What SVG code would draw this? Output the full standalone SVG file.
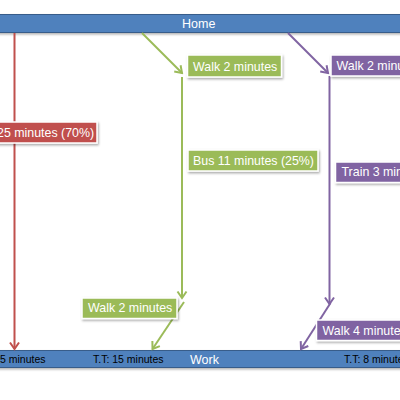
<svg xmlns="http://www.w3.org/2000/svg" width="400" height="400" viewBox="0 0 400 400">
<style>
.bar{fill:#4f81bd;stroke:#385d8a;stroke-width:1}
.bt{font-family:"Liberation Sans",Arial,sans-serif;font-size:12.5px;fill:#fff}
.tt{font-family:"Liberation Sans",Arial,sans-serif;font-size:10.5px;fill:#000}
.lbl{stroke:#fff;stroke-width:1.5;filter:url(#sh)}
.lt{font-family:"Liberation Sans",Arial,sans-serif;font-size:12.4px;fill:#fff}
.red{fill:#c0504d}.grn{fill:#9bbb59}.pur{fill:#8064a2}
.c{fill:none;stroke-width:2}
</style>
<defs>
<filter id="sh" x="-20%" y="-30%" width="140%" height="170%">
<feDropShadow dx="1" dy="1.5" stdDeviation="1" flood-color="#000" flood-opacity="0.35"/>
</filter>
<filter id="bs" x="-5%" y="-30%" width="110%" height="170%">
<feDropShadow dx="0" dy="1.5" stdDeviation="1" flood-color="#000" flood-opacity="0.3"/>
</filter>
<marker id="ar" viewBox="-8 -6 10 12" refX="0" refY="0" markerWidth="10" markerHeight="12" markerUnits="userSpaceOnUse" orient="auto"><path d="M-6.5,-4.5 L0,0 L-6.5,4.5" fill="none" stroke="#c0504d" stroke-width="2"/></marker>
<marker id="ag" viewBox="-8 -6 10 12" refX="0" refY="0" markerWidth="10" markerHeight="12" markerUnits="userSpaceOnUse" orient="auto"><path d="M-6.5,-4.5 L0,0 L-6.5,4.5" fill="none" stroke="#9bbb59" stroke-width="2"/></marker>
<marker id="ap" viewBox="-8 -6 10 12" refX="0" refY="0" markerWidth="10" markerHeight="12" markerUnits="userSpaceOnUse" orient="auto"><path d="M-6.5,-4.5 L0,0 L-6.5,4.5" fill="none" stroke="#8064a2" stroke-width="2"/></marker>
</defs>
<rect width="400" height="400" fill="#fff"/>
<g id="home">
<rect class="bar" x="-2" y="14.5" width="404" height="18" filter="url(#bs)"/>
<text class="bt" x="182" y="28">Home</text>
</g>
<g id="work">
<rect class="bar" x="-2" y="350.5" width="404" height="17" filter="url(#bs)"/>
<text class="bt" x="190" y="363.5">Work</text>
<text class="tt" x="0" y="363">5 minutes</text>
<text class="tt" x="93" y="363">T.T: 15 minutes</text>
<text class="tt" x="344" y="363">T.T: 8 minutes</text>
</g>
<g id="connectors">
<line class="c" x1="14.5" y1="33" x2="14.5" y2="349" stroke="#c0504d" marker-end="url(#ar)"/>
<line class="c" x1="142" y1="33" x2="182" y2="73" stroke="#9bbb59" marker-end="url(#ag)"/>
<line class="c" x1="182" y1="77" x2="182" y2="298" stroke="#9bbb59" marker-end="url(#ag)"/>
<line class="c" x1="184" y1="302" x2="152.5" y2="349" stroke="#9bbb59" marker-end="url(#ag)"/>
<line class="c" x1="288" y1="33" x2="328" y2="73" stroke="#8064a2" marker-end="url(#ap)"/>
<line class="c" x1="329.5" y1="76" x2="329.5" y2="304" stroke="#8064a2" marker-end="url(#ap)"/>
<line class="c" x1="330.5" y1="303" x2="301" y2="349" stroke="#8064a2" marker-end="url(#ap)"/>
</g>
<g id="car">
<rect class="lbl red" x="-4" y="122" width="101" height="21"/>
<text class="lt" x="-3" y="136.5">25 minutes (70%)</text>
</g>
<g id="walk-g1">
<rect class="lbl grn" x="187.5" y="55" width="94" height="22"/>
<text class="lt" x="193" y="70.5">Walk 2 minutes</text>
</g>
<g id="bus">
<rect class="lbl grn" x="188" y="150" width="130" height="21"/>
<text class="lt" x="193" y="164.5">Bus 11 minutes (25%)</text>
</g>
<g id="walk-g2">
<rect class="lbl grn" x="82" y="298" width="95" height="20.5"/>
<text class="lt" x="88" y="312">Walk 2 minutes</text>
</g>
<g id="walk-p1">
<rect class="lbl pur" x="331" y="55" width="80" height="21"/>
<text class="lt" x="336.5" y="69.5">Walk 2 minutes</text>
</g>
<g id="train">
<rect class="lbl pur" x="335.5" y="162" width="75" height="20.5"/>
<text class="lt" x="341.5" y="176">Train 3 minutes</text>
</g>
<g id="walk-p2">
<rect class="lbl pur" x="316.5" y="320" width="95" height="20.5"/>
<text class="lt" x="322.5" y="334.5">Walk 4 minutes</text>
</g>
</svg>
